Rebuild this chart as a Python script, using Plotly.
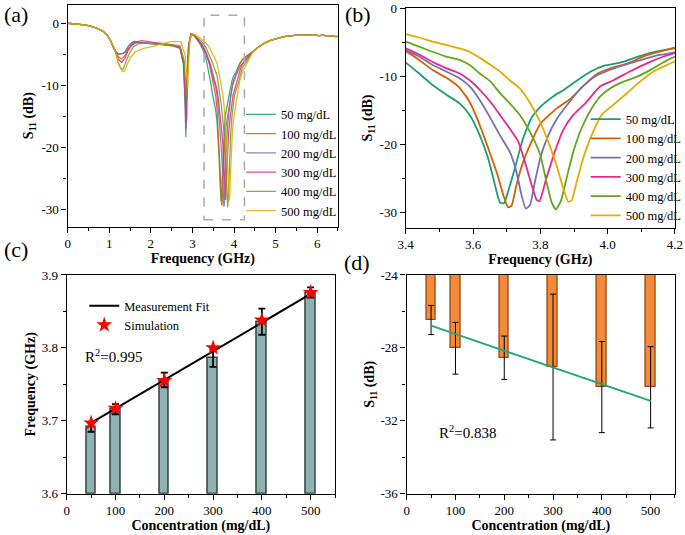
import plotly.graph_objects as go

# ---------------- data ----------------
CONC_LABELS = ["50 mg/dL", "100 mg/dL", "200 mg/dL", "300 mg/dL", "400 mg/dL", "500 mg/dL"]
COLORS = ["#1b9e77", "#d95f02", "#7570b3", "#e7298a", "#66a61e", "#e6ab02"]

# shared low-frequency part (GHz, dB)
HEAD = [(0.0, 0.0), (0.2, -0.08), (0.4, -0.25), (0.55, -0.45), (0.7, -0.8),
        (0.85, -1.3), (0.95, -1.9), (1.03, -2.8), (1.10, -3.8)]
# shared high-frequency tail (GHz, dB)
TAIL = [(4.45, -4.6), (4.55, -4.0), (4.7, -3.3), (4.86, -2.8), (5.0, -2.5), (5.2, -2.15),
        (5.5, -1.9), (5.7, -1.85), (5.9, -1.9), (6.05, -2.0), (6.15, -1.9), (6.25, -2.1),
        (6.35, -2.0), (6.45, -2.15), (6.5, -2.1)]

S11_50 = [(1.15, -4.6), (1.22, -4.9), (1.30, -4.9), (1.38, -4.7), (1.45, -3.8), (1.52, -3.2), (1.60, -2.9),
          (1.70, -3.1), (1.85, -3.2), (2.00, -3.3), (2.20, -3.4), (2.40, -3.5), (2.55, -3.6), (2.70, -4.0),
          (2.78, -6.5), (2.82, -12.0), (2.84, -18.3), (2.86, -10.0), (2.90, -4.0), (2.96, -1.7), (3.05, -2.1),
          (3.15, -3.0), (3.25, -4.2), (3.33, -5.8),
          (3.40, -8.0), (3.44, -9.6), (3.48, -11.3), (3.52, -12.7), (3.56, -14.0), (3.59, -15.7), (3.62, -18.7),
          (3.645, -22.1), (3.665, -26.0), (3.68, -28.6), (3.692, -28.7), (3.704, -27.0), (3.724, -23.6),
          (3.749, -19.1), (3.775, -16.0), (3.80, -14.5), (3.84, -12.9), (3.87, -12.0), (3.91, -10.6),
          (3.95, -9.3), (3.99, -8.45), (4.04, -7.96), (4.09, -7.1), (4.14, -6.4), (4.20, -5.9), (4.30, -5.3)]

S11_100 = [(1.15, -4.6), (1.22, -5.4), (1.30, -5.7), (1.38, -5.2), (1.45, -4.2), (1.55, -3.4), (1.65, -3.1),
           (1.80, -3.1), (2.00, -3.2), (2.20, -3.4), (2.40, -3.5), (2.55, -3.7), (2.70, -4.0), (2.79, -6.5),
           (2.83, -11.5), (2.85, -14.5), (2.87, -9.0), (2.91, -3.5), (2.97, -1.7), (3.05, -2.0), (3.15, -2.8),
           (3.25, -3.8), (3.33, -5.0),
           (3.40, -6.3), (3.44, -7.6), (3.48, -9.1), (3.52, -10.2), (3.56, -11.7), (3.59, -13.8), (3.62, -17.2),
           (3.645, -20.6), (3.67, -24.1), (3.69, -27.5), (3.704, -29.3), (3.714, -29.1), (3.729, -26.0),
           (3.749, -22.6), (3.774, -19.6), (3.80, -17.0), (3.85, -14.7), (3.89, -13.3), (3.93, -11.3),
           (3.97, -9.6), (4.01, -8.8), (4.06, -8.1), (4.11, -7.0), (4.16, -6.3), (4.20, -5.8), (4.30, -5.3)]

S11_200 = [(1.15, -4.6), (1.22, -4.9), (1.30, -4.9), (1.38, -4.6), (1.45, -3.8), (1.55, -3.2), (1.65, -3.0),
           (1.80, -3.1), (2.00, -3.2), (2.20, -3.3), (2.40, -3.4), (2.55, -3.6), (2.70, -3.9), (2.79, -6.5),
           (2.83, -12.5), (2.85, -17.0), (2.87, -9.0), (2.91, -3.5), (2.97, -1.7), (3.05, -2.0), (3.15, -2.8),
           (3.25, -3.8), (3.33, -5.0),
           (3.40, -6.2), (3.44, -7.1), (3.48, -8.35), (3.52, -9.3), (3.56, -10.3), (3.59, -11.5), (3.62, -13.5),
           (3.652, -16.2), (3.68, -18.7), (3.709, -21.1), (3.729, -24.1), (3.744, -27.5), (3.757, -29.5),
           (3.769, -29.0), (3.784, -25.5), (3.80, -22.0), (3.82, -19.1), (3.85, -16.2), (3.88, -14.2),
           (3.92, -11.8), (3.96, -10.1), (4.00, -9.2), (4.05, -8.35), (4.10, -7.6), (4.15, -6.9), (4.20, -6.5),
           (4.30, -5.6)]

S11_300 = [(1.15, -4.6), (1.22, -5.8), (1.30, -6.3), (1.38, -5.6), (1.45, -4.4), (1.55, -3.5), (1.65, -3.0),
           (1.78, -2.8), (1.90, -2.9), (2.05, -3.0), (2.20, -3.1), (2.40, -3.3), (2.55, -3.5), (2.70, -3.8),
           (2.79, -6.0), (2.83, -12.0), (2.855, -16.0), (2.875, -9.0), (2.92, -3.3), (2.97, -1.7), (3.05, -2.0),
           (3.15, -2.7), (3.25, -3.6), (3.33, -4.7),
           (3.40, -5.9), (3.44, -6.8), (3.48, -7.9), (3.52, -8.8), (3.56, -9.6), (3.59, -10.6), (3.62, -12.0),
           (3.652, -13.8), (3.68, -15.7), (3.709, -17.7), (3.734, -19.6), (3.754, -22.6), (3.774, -26.0),
           (3.789, -28.2), (3.797, -28.4), (3.818, -25.0), (3.843, -21.1), (3.868, -17.9), (3.898, -15.7),
           (3.937, -13.8), (3.977, -11.5), (4.017, -10.6), (4.066, -9.3), (4.116, -8.1), (4.166, -7.1),
           (4.20, -6.6), (4.30, -5.8)]

S11_400 = [(1.15, -4.6), (1.22, -6.4), (1.28, -7.3), (1.33, -7.4), (1.40, -6.3), (1.48, -4.9), (1.58, -3.8),
           (1.70, -3.3), (1.85, -3.2), (2.00, -3.3), (2.20, -3.4), (2.40, -3.4), (2.55, -3.5), (2.70, -3.6),
           (2.80, -6.0), (2.845, -10.0), (2.865, -12.5), (2.885, -7.0), (2.93, -3.0), (2.98, -1.7), (3.05, -1.9),
           (3.15, -2.5), (3.25, -3.2), (3.33, -4.0),
           (3.40, -4.9), (3.44, -5.65), (3.48, -6.4), (3.52, -7.1), (3.56, -7.6), (3.59, -8.35), (3.62, -9.6),
           (3.652, -10.8), (3.68, -12.5), (3.709, -14.0), (3.739, -15.7), (3.769, -18.2), (3.799, -21.5),
           (3.818, -25.5), (3.833, -28.5), (3.846, -29.6), (3.86, -28.5), (3.878, -25.0), (3.898, -21.1),
           (3.922, -17.7), (3.947, -15.2), (3.977, -13.0), (4.007, -11.8), (4.047, -10.8), (4.086, -10.1),
           (4.126, -9.1), (4.166, -7.95), (4.20, -7.1), (4.30, -6.2)]

S11_500 = [(1.15, -4.6), (1.24, -6.8), (1.31, -7.7), (1.36, -7.8), (1.43, -6.6), (1.52, -5.4), (1.62, -4.6),
           (1.72, -4.3), (1.85, -4.0), (2.00, -3.8), (2.15, -3.5), (2.30, -3.2), (2.45, -3.0), (2.60, -2.9),
           (2.72, -3.0), (2.82, -5.0), (2.86, -8.5), (2.89, -10.3), (2.91, -6.0), (2.94, -2.8), (2.98, -1.7),
           (3.05, -1.8), (3.15, -2.2), (3.25, -2.7), (3.33, -3.2),
           (3.40, -3.8), (3.44, -4.3), (3.48, -4.9), (3.52, -5.4), (3.56, -5.9), (3.59, -6.4), (3.62, -7.3),
           (3.652, -8.35), (3.68, -9.3), (3.709, -10.6), (3.739, -11.8), (3.769, -13.9), (3.799, -16.7),
           (3.823, -19.6), (3.848, -23.1), (3.868, -26.5), (3.883, -28.5), (3.893, -28.3), (3.908, -25.5),
           (3.927, -22.1), (3.952, -18.7), (3.982, -15.7), (4.017, -14.2), (4.057, -12.5), (4.096, -10.8),
           (4.136, -9.3), (4.176, -8.35), (4.20, -7.8), (4.30, -6.6)]

CURVES = [S11_50, S11_100, S11_200, S11_300, S11_400, S11_500]

# panel (c)
CONC = [50, 100, 200, 300, 400, 500]
FREQ_MEAS = [3.691, 3.716, 3.756, 3.786, 3.836, 3.876]
FREQ_ERR = [0.006, 0.007, 0.010, 0.012, 0.018, 0.007]
FREQ_SIM = [3.697, 3.717, 3.755, 3.800, 3.838, 3.876]
FREQ_FIT_X = [50, 500]
FREQ_FIT_Y = [3.697, 3.874]

# panel (d)
S11_MEAS = [-26.47, -28.02, -28.54, -29.05, -30.15, -30.16]
S11_ERR = [0.8, 1.42, 1.19, 4.0, 2.5, 2.23]
S11_FIT_X = [50, 500]
S11_FIT_Y = [-26.78, -30.91]

# tick labels
A_XTICKS = [0, 1, 2, 3, 4, 5, 6]
A_YTICKS = [0, -10, -20, -30]
A_YTEXT = ["0", "-10", "-20", "-30"]
B_XTICKS = [3.4, 3.6, 3.8, 4.0, 4.2]
B_XTEXT = ["3.4", "3.6", "3.8", "4.0", "4.2"]
B_YTICKS = [0, -10, -20, -30]
B_YTEXT = ["0", "-10", "-20", "-30"]
C_XTICKS = [0, 100, 200, 300, 400, 500]
C_YTICKS = [3.6, 3.7, 3.8, 3.9]
C_YTEXT = ["3.6", "3.7", "3.8", "3.9"]
D_YTICKS = [-36, -32, -28, -24]
D_YTEXT = ["-36", "-32", "-28", "-24"]

# ---------------- figure ----------------
FONT = "Liberation Serif"
fig = go.Figure()

for lab, col, cur in zip(CONC_LABELS, COLORS, CURVES):
    pts = HEAD + cur + TAIL
    fig.add_trace(go.Scatter(x=[p[0] for p in pts], y=[p[1] for p in pts], mode="lines",
                             name=lab, line=dict(color=col, width=1.3), opacity=0.85,
                             xaxis="x", yaxis="y", legend="legend"))
for lab, col, cur in zip(CONC_LABELS, COLORS, CURVES):
    pts = HEAD + cur + TAIL
    fig.add_trace(go.Scatter(x=[p[0] for p in pts], y=[p[1] for p in pts], mode="lines",
                             name=lab, line=dict(color=col, width=1.8, shape="spline", smoothing=0.5),
                             xaxis="x2", yaxis="y2", legend="legend2"))

# (c)
fig.add_trace(go.Bar(x=CONC, y=[v - 3.6 for v in FREQ_MEAS], base=3.6, width=20,
                     marker=dict(color="#8fb1b1", line=dict(color="#2f4545", width=1.5)),
                     error_y=dict(type="data", array=FREQ_ERR, color="black", thickness=1.8, width=3.5),
                     showlegend=False, xaxis="x3", yaxis="y3"))
fig.add_trace(go.Scatter(x=FREQ_FIT_X, y=FREQ_FIT_Y, mode="lines", name="Measurement Fit",
                         line=dict(color="black", width=2), xaxis="x3", yaxis="y3", legend="legend3"))
fig.add_trace(go.Scatter(x=CONC, y=FREQ_SIM, mode="markers", name="Simulation",
                         marker=dict(symbol="star", color="#ff0000", size=12, line=dict(width=0)),
                         xaxis="x3", yaxis="y3", legend="legend3"))

# (d)
fig.add_trace(go.Bar(x=CONC, y=[v + 24 for v in S11_MEAS], base=-24, width=20,
                     marker=dict(color="#f28a38", line=dict(color="#9a4512", width=1.3)),
                     error_y=dict(type="data", array=S11_ERR, color="black", thickness=1, width=3),
                     showlegend=False, xaxis="x4", yaxis="y4"))
fig.add_trace(go.Scatter(x=S11_FIT_X, y=S11_FIT_Y, mode="lines", line=dict(color="#20a67c", width=1.8),
                         showlegend=False, xaxis="x4", yaxis="y4"))

tickfont = dict(family=FONT, size=13, color="black")
titlefont = dict(family=FONT, size=14, color="black", weight="bold")


def ax(domain, rng, tickvals, ticktext, minor_dtick, title, standoff, anchor, tick0=0):
    return dict(domain=domain, range=rng, tickvals=tickvals, ticktext=ticktext,
                ticks="outside", ticklen=5, tickwidth=1.2, tickcolor="black",
                minor=dict(dtick=minor_dtick, tick0=tick0, ticks="outside", ticklen=3,
                           tickwidth=1, tickcolor="black"),
                showline=True, linecolor="black", linewidth=1.4, mirror=True,
                showgrid=False, zeroline=False, tickfont=tickfont, automargin=False,
                title=dict(text=title, font=titlefont, standoff=standoff), anchor=anchor)


S11_TITLE = "S<sub>11</sub> (dB)"
layout = dict(
    width=685, height=535, margin=dict(l=0, r=0, t=0, b=0, autoexpand=False),
    paper_bgcolor="white", plot_bgcolor="white",
    font=dict(family=FONT, color="black"),
    xaxis=ax([0.0988, 0.4934], [0, 6.5], A_XTICKS, [str(t) for t in A_XTICKS], 0.5,
             "Frequency (GHz)", 1, "y"),
    yaxis=ax([0.5763, 0.9914], [-32.7, 3.0], A_YTICKS, A_YTEXT, 5, S11_TITLE, 4, "x"),
    xaxis2=ax([0.5923, 0.9854], [3.4, 4.2], B_XTICKS, B_XTEXT, 0.1, "Frequency (GHz)", 1, "y2", tick0=3.4),
    yaxis2=ax([0.5744, 0.9845], [-32.3, 0], B_YTICKS, B_YTEXT, 5, S11_TITLE, 3, "x2"),
    xaxis3=ax([0.0974, 0.4891], [0, 550], C_XTICKS, [str(t) for t in C_XTICKS], 50,
              "Concentration (mg/dL)", 2, "y3"),
    yaxis3=ax([0.0772, 0.4860], [3.6, 3.9], C_YTICKS, C_YTEXT, 0.05, "Frequency (GHz)", 2, "x3", tick0=3.6),
    xaxis4=ax([0.5937, 0.9854], [0, 550], C_XTICKS, [str(t) for t in C_XTICKS], 50,
              "Concentration (mg/dL)", 2, "y4"),
    yaxis4=ax([0.0772, 0.4860], [-36, -24], D_YTICKS, D_YTEXT, 2, S11_TITLE, 2, "x4", tick0=-36),
    legend=dict(x=0.352, y=0.578, xanchor="left", yanchor="bottom", bgcolor="rgba(0,0,0,0)",
                font=dict(family=FONT, size=12.5, color="black")),
    legend2=dict(x=0.855, y=0.569, xanchor="left", yanchor="bottom", bgcolor="rgba(0,0,0,0)",
                 font=dict(family=FONT, size=12.5, color="black")),
    legend3=dict(x=0.123, y=0.456, xanchor="left", yanchor="top", bgcolor="rgba(0,0,0,0)",
                 font=dict(family=FONT, size=12.5, color="black")),
    bargap=0,
    shapes=[dict(type="rect", xref="x", yref="y", x0=3.28, x1=4.25, y0=-31.6, y1=1.3,
                 line=dict(color="#aaaaaa", width=1.5, dash="dash"), layer="above")],
    annotations=[
        dict(text="(a)", x=0.003, y=0.972, xref="paper", yref="paper", xanchor="left", yanchor="middle",
             showarrow=False, font=dict(family=FONT, size=22, color="black")),
        dict(text="(b)", x=0.5007, y=0.972, xref="paper", yref="paper", xanchor="left", yanchor="middle",
             showarrow=False, font=dict(family=FONT, size=22, color="black")),
        dict(text="(c)", x=0.003, y=0.533, xref="paper", yref="paper", xanchor="left", yanchor="middle",
             showarrow=False, font=dict(family=FONT, size=22, color="black")),
        dict(text="(d)", x=0.499, y=0.51, xref="paper", yref="paper", xanchor="left", yanchor="middle",
             showarrow=False, font=dict(family=FONT, size=22, color="black")),
        dict(text="R<sup>2</sup>=0.995", x=0.062, y=0.63, xref="x3 domain", yref="y3 domain",
             xanchor="left", yanchor="middle", showarrow=False,
             font=dict(family=FONT, size=15, color="black")),
        dict(text="R<sup>2</sup>=0.838", x=0.112, y=0.284, xref="x4 domain", yref="y4 domain",
             xanchor="left", yanchor="middle", showarrow=False,
             font=dict(family=FONT, size=15, color="black")),
    ],
)
fig.update_layout(**layout)
fig.write_html("out.html", config={"displayModeBar": False},
               post_script="document.body.style.margin='0';document.body.style.overflow='hidden';")
